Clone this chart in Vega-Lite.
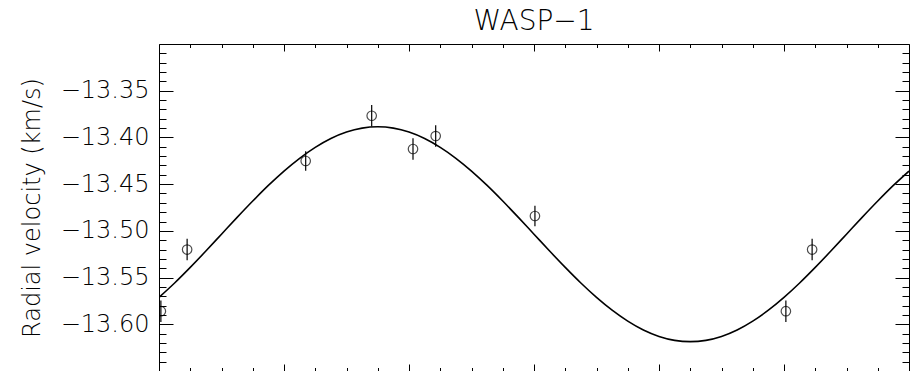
{
  "$schema": "https://vega.github.io/schema/vega-lite/v6.json",
  "width": 750,
  "height": 327,
  "autosize": {"type": "none"},
  "padding": {"left": 159, "top": 44, "right": 6, "bottom": 0},
  "background": "white",
  "title": {"text": "WASP−1", "fontSize": 28, "font": "DejaVu Sans", "fontWeight": 200, "color": "black", "offset": 8, "anchor": "middle"},
  "config": {
    "view": {"stroke": null},
    "axis": {"domainColor": "black", "tickColor": "black", "labelColor": "black", "titleColor": "black", "grid": false, "domainWidth": 1, "tickWidth": 1, "labelFont": "DejaVu Sans", "titleFont": "DejaVu Sans", "labelFontWeight": 200, "titleFontWeight": 200}
  },
  "datasets": {
    "curve": [
      {"phase": 0.0, "rv": -13.5712}, {"phase": 0.025, "rv": -13.5558}, {"phase": 0.05, "rv": -13.5391}, {"phase": 0.075, "rv": -13.5216},
      {"phase": 0.1, "rv": -13.5036}, {"phase": 0.125, "rv": -13.4856}, {"phase": 0.15, "rv": -13.4681}, {"phase": 0.175, "rv": -13.4514},
      {"phase": 0.2, "rv": -13.436}, {"phase": 0.225, "rv": -13.4223}, {"phase": 0.25, "rv": -13.4106}, {"phase": 0.275, "rv": -13.4011},
      {"phase": 0.3, "rv": -13.3942}, {"phase": 0.325, "rv": -13.39}, {"phase": 0.35, "rv": -13.3886}, {"phase": 0.375, "rv": -13.39},
      {"phase": 0.4, "rv": -13.3942}, {"phase": 0.425, "rv": -13.4011}, {"phase": 0.45, "rv": -13.4106}, {"phase": 0.475, "rv": -13.4223},
      {"phase": 0.5, "rv": -13.436}, {"phase": 0.525, "rv": -13.4514}, {"phase": 0.55, "rv": -13.4681}, {"phase": 0.575, "rv": -13.4856},
      {"phase": 0.6, "rv": -13.5036}, {"phase": 0.625, "rv": -13.5216}, {"phase": 0.65, "rv": -13.5391}, {"phase": 0.675, "rv": -13.5558},
      {"phase": 0.7, "rv": -13.5712}, {"phase": 0.725, "rv": -13.5849}, {"phase": 0.75, "rv": -13.5966}, {"phase": 0.775, "rv": -13.6061},
      {"phase": 0.8, "rv": -13.613}, {"phase": 0.825, "rv": -13.6172}, {"phase": 0.85, "rv": -13.6186}, {"phase": 0.875, "rv": -13.6172},
      {"phase": 0.9, "rv": -13.613}, {"phase": 0.925, "rv": -13.6061}, {"phase": 0.95, "rv": -13.5966}, {"phase": 0.975, "rv": -13.5849},
      {"phase": 1.0, "rv": -13.5712}, {"phase": 1.025, "rv": -13.5558}, {"phase": 1.05, "rv": -13.5391}, {"phase": 1.075, "rv": -13.5216},
      {"phase": 1.1, "rv": -13.5036}, {"phase": 1.125, "rv": -13.4856}, {"phase": 1.15, "rv": -13.4681}, {"phase": 1.175, "rv": -13.4514},
      {"phase": 1.2, "rv": -13.436}
    ],
    "obs": [
      {"phase": 0.003, "rv": -13.586, "err": 0.0115},
      {"phase": 0.045, "rv": -13.52, "err": 0.0115},
      {"phase": 0.2347, "rv": -13.4252, "err": 0.0105},
      {"phase": 0.3403, "rv": -13.3768, "err": 0.0115},
      {"phase": 0.4064, "rv": -13.4124, "err": 0.0115},
      {"phase": 0.4427, "rv": -13.3985, "err": 0.0115},
      {"phase": 0.6015, "rv": -13.4841, "err": 0.011},
      {"phase": 1.003, "rv": -13.586, "err": 0.0115},
      {"phase": 1.045, "rv": -13.52, "err": 0.0115}
    ]
  },
  "layer": [
    {
      "data": {"name": "curve"},
      "mark": {"type": "line", "color": "black", "strokeWidth": 1.6, "interpolate": "monotone", "clip": true},
      "encoding": {
        "x": {"field": "phase", "type": "quantitative", "scale": {"domain": [0, 1.2], "nice": false, "zero": false},
          "axis": {"orient": "bottom", "values": [0, 0.2, 0.4, 0.6, 0.8, 1.0, 1.2], "tickSize": -7, "labels": false, "title": null, "domain": true}},
        "y": {"field": "rv", "type": "quantitative", "scale": {"domain": [-13.65, -13.3], "nice": false, "zero": false},
          "axis": {"orient": "left", "values": [-13.6, -13.55, -13.5, -13.45, -13.4, -13.35], "format": ".2f", "tickSize": -14, "labelPadding": 24, "labelFontSize": 24, "title": "Radial velocity (km/s)", "titleFontSize": 24, "titlePadding": 16, "domain": true}}
      }
    },
    {
      "data": {"name": "obs"},
      "mark": {"type": "errorbar", "color": "black", "ticks": false, "rule": {"strokeWidth": 1.2, "clip": true}},
      "encoding": {
        "x": {"field": "phase", "type": "quantitative", "scale": {"domain": [0, 1.2], "nice": false, "zero": false},
          "axis": {"orient": "bottom", "values": [0.05, 0.1, 0.15, 0.25, 0.3, 0.35, 0.45, 0.5, 0.55, 0.65, 0.7, 0.75, 0.85, 0.9, 0.95, 1.05, 1.1, 1.15], "tickSize": -3.5, "labels": false, "title": null, "domain": false}},
        "y": {"field": "rv", "type": "quantitative", "scale": {"domain": [-13.65, -13.3], "nice": false, "zero": false},
          "axis": {"orient": "left", "values": [-13.64, -13.63, -13.62, -13.61, -13.59, -13.58, -13.57, -13.56, -13.54, -13.53, -13.52, -13.51, -13.49, -13.48, -13.47, -13.46, -13.44, -13.43, -13.42, -13.41, -13.39, -13.38, -13.37, -13.36, -13.34, -13.33, -13.32, -13.31], "tickSize": -7, "labels": false, "title": null, "domain": false}},
        "yError": {"field": "err"}
      }
    },
    {
      "data": {"name": "obs"},
      "mark": {"type": "point", "shape": "circle", "filled": false, "color": "black", "size": 90, "strokeWidth": 1.2, "clip": true},
      "encoding": {
        "x": {"field": "phase", "type": "quantitative", "scale": {"domain": [0, 1.2], "nice": false, "zero": false},
          "axis": {"orient": "top", "values": [0, 0.2, 0.4, 0.6, 0.8, 1.0, 1.2], "tickSize": -7, "labels": false, "title": null, "domain": true}},
        "y": {"field": "rv", "type": "quantitative", "scale": {"domain": [-13.65, -13.3], "nice": false, "zero": false},
          "axis": {"orient": "right", "values": [-13.6, -13.55, -13.5, -13.45, -13.4, -13.35], "tickSize": -14, "labels": false, "title": null, "domain": true}}
      }
    },
    {
      "data": {"name": "obs"},
      "mark": {"type": "point", "opacity": 0, "clip": true},
      "encoding": {
        "x": {"field": "phase", "type": "quantitative", "scale": {"domain": [0, 1.2], "nice": false, "zero": false},
          "axis": {"orient": "top", "values": [0.05, 0.1, 0.15, 0.25, 0.3, 0.35, 0.45, 0.5, 0.55, 0.65, 0.7, 0.75, 0.85, 0.9, 0.95, 1.05, 1.1, 1.15], "tickSize": -3.5, "labels": false, "title": null, "domain": false}},
        "y": {"field": "rv", "type": "quantitative", "scale": {"domain": [-13.65, -13.3], "nice": false, "zero": false},
          "axis": {"orient": "right", "values": [-13.64, -13.63, -13.62, -13.61, -13.59, -13.58, -13.57, -13.56, -13.54, -13.53, -13.52, -13.51, -13.49, -13.48, -13.47, -13.46, -13.44, -13.43, -13.42, -13.41, -13.39, -13.38, -13.37, -13.36, -13.34, -13.33, -13.32, -13.31], "tickSize": -7, "labels": false, "title": null, "domain": false}}
      }
    }
  ],
  "resolve": {"axis": {"x": "independent", "y": "independent"}}
}
